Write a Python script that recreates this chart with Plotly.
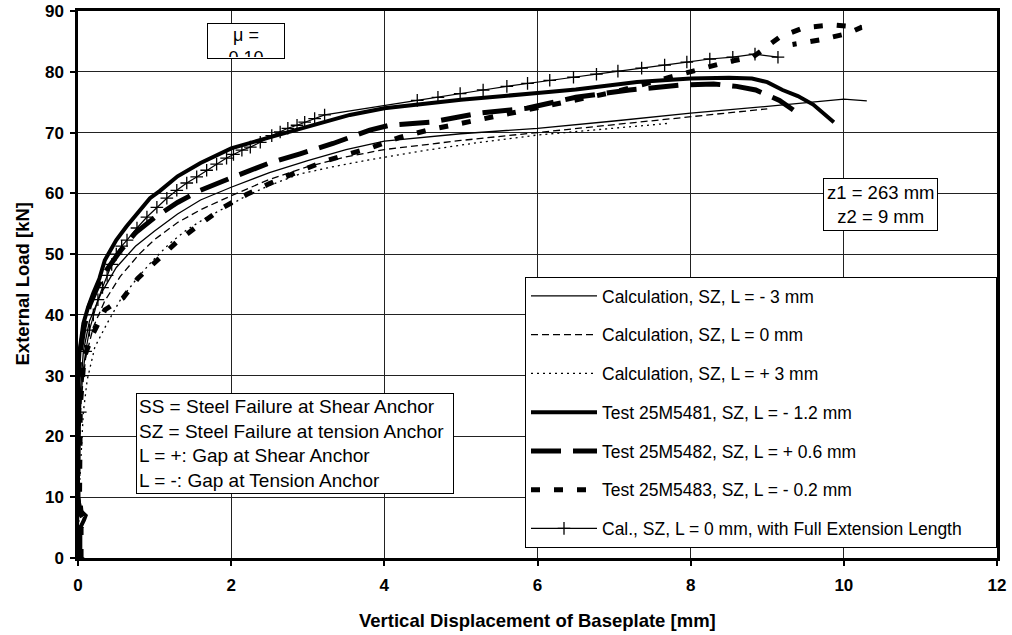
import plotly.graph_objects as go

# ---------------- data ----------------
calc_m3_x = [0, 0.01, 0.03, 0.07, 0.15, 0.3, 0.5, 0.75, 1.0, 1.3, 1.6, 2.0, 2.5, 3.0, 3.5, 4.0, 5.0, 6.0, 7.0, 8.0, 9.0, 10.0, 10.3]
calc_m3_y = [0, 15, 27, 34, 39, 43.5, 47.8, 51.3, 53.8, 56.6, 58.9, 61.0, 63.4, 65.4, 67.2, 68.6, 69.8, 70.7, 71.9, 73.2, 74.3, 75.5, 75.2]

calc_0_x = [0, 0.01, 0.04, 0.1, 0.2, 0.35, 0.55, 0.8, 1.0, 1.3, 1.6, 2.0, 2.5, 3.0, 3.5, 4.0, 5.0, 6.0, 7.0, 8.0, 9.0]
calc_0_y = [0, 14, 26, 33, 38, 42.3, 46.3, 50.0, 52.4, 55.2, 57.3, 59.6, 62.3, 64.4, 66.0, 67.2, 68.7, 70.0, 71.2, 72.6, 73.9]

calc_p3_x = [0, 0.02, 0.07, 0.12, 0.22, 0.38, 0.55, 0.77, 0.95, 1.2, 1.42, 1.65, 1.9, 2.2, 2.5, 2.9, 3.3, 3.8, 4.5, 5.2, 6.0, 6.8, 7.7]
calc_p3_y = [0, 12, 24, 29.3, 34.7, 38.6, 42.4, 46.0, 48.6, 51.8, 54.0, 55.8, 57.5, 59.6, 61.3, 63.2, 64.3, 65.5, 67.0, 68.3, 69.6, 70.5, 71.5]

test_5481_x = [0.03, 0.03, 0.08, 0.1, 0.03, 0.0, 0.0, 0.02, 0.07, 0.13, 0.2, 0.28, 0.35, 0.5, 0.63, 0.77, 0.94, 1.07, 1.3, 1.6, 2.0, 2.5, 3.0, 3.55, 4.0, 5.0, 6.0, 6.5, 7.3, 8.0, 8.5, 8.8, 9.0, 9.2, 9.4, 9.6, 9.87]
test_5481_y = [0, 5, 6.3, 7, 7.8, 10, 30, 34, 38.6, 41.2, 43.6, 46.0, 49.0, 52.3, 54.5, 56.7, 59.2, 60.4, 62.8, 65.0, 67.4, 69.2, 71.0, 72.9, 74.0, 75.4, 76.5, 77.1, 78.3, 78.9, 79.0, 78.9, 78.3, 77.0, 76.0, 74.6, 71.7]

test_5482_x = [0.02, 0.02, 0.07, 0.02, 0.0, 0.0, 0.03, 0.08, 0.15, 0.25, 0.38, 0.55, 0.75, 1.0, 1.3, 1.6, 2.03, 2.5, 2.9, 3.33, 3.81, 4.07, 4.6, 5.25, 5.86, 6.5, 7.2, 7.86, 8.3, 8.6, 8.85, 9.0, 9.16, 9.34]
test_5482_y = [0, 5, 6.5, 7.5, 10, 29, 34, 38, 41.5, 44.5, 47.5, 50.5, 53.5, 56.0, 58.5, 60.5, 62.7, 65.0, 66.5, 68.2, 70.4, 71.2, 71.7, 73.2, 74.0, 75.8, 77.0, 77.8, 78.0, 77.6, 77.0, 76.2, 75.3, 73.7]

test_5483_x = [0.04, 0.04, 0.1, 0.04, 0.02, 0.03, 0.08, 0.2, 0.35, 0.59, 0.78, 1.04, 1.29, 1.6, 1.9, 2.2, 2.5, 2.86, 3.25, 3.85, 4.2, 4.57, 5.29, 6.0, 6.98, 7.73, 8.08, 8.47, 8.81, 8.94, 9.16, 9.49, 9.86, 10.23, 10.05, 9.71, 9.33]
test_5483_y = [0, 5, 6.5, 7.5, 10, 25, 33, 37, 40.8, 42.8, 46.0, 49.0, 52.0, 55.0, 57.7, 59.8, 61.6, 63.5, 65.4, 67.6, 69.2, 70.4, 72.3, 74.0, 76.6, 79.1, 80.3, 81.6, 82.4, 83.6, 85.7, 87.3, 87.7, 87.3, 86.3, 85.3, 84.5]

full_ext_x = [0, 0.03, 0.06, 0.1, 0.15, 0.2, 0.26, 0.32, 0.38, 0.44, 0.5, 0.57, 0.64, 0.77, 0.9, 1.03, 1.16, 1.29, 1.42, 1.55, 1.68, 1.81, 1.94, 2.03, 2.14, 2.25, 2.38, 2.53, 2.64, 2.74, 2.86, 2.96, 3.09, 3.22, 4.43, 4.70, 4.99, 5.29, 5.6, 5.87, 6.16, 6.47, 6.77, 7.05, 7.36, 7.66, 7.95, 8.25, 8.55, 8.84, 9.14]
full_ext_y = [0, 24, 30, 34, 37.5, 40, 42.5, 44.5, 46.5, 48.3, 50, 51.3, 52.3, 54.3, 56.1, 57.7, 59.2, 60.5, 61.7, 62.7, 63.8, 64.8, 65.8, 66.4, 67.1, 67.6, 68.4, 69.5, 70.1, 70.7, 71.2, 71.7, 72.3, 72.9, 75.3, 75.8, 76.4, 77.0, 77.6, 78.1, 78.6, 79.1, 79.6, 80.1, 80.6, 81.1, 81.6, 82.1, 82.4, 82.9, 82.4]

series_names = [
    "Calculation, SZ, L = - 3 mm",
    "Calculation, SZ, L = 0 mm",
    "Calculation, SZ, L = + 3 mm",
    "Test 25M5481, SZ, L = - 1.2 mm",
    "Test 25M5482, SZ, L = + 0.6 mm",
    "Test 25M5483, SZ, L = - 0.2 mm",
    "Cal., SZ, L = 0 mm, with Full Extension Length",
]

x_ticks = [0, 2, 4, 6, 8, 10, 12]
y_ticks = [0, 10, 20, 30, 40, 50, 60, 70, 80, 90]

FONT = "Arial, Liberation Sans, sans-serif"

fig = go.Figure()

styles = [
    dict(width=1.3, dash="solid"),
    dict(width=1.3, dash="7px,4px"),
    dict(width=1.3, dash="2px,4px"),
    dict(width=4.0, dash="solid"),
    dict(width=5.0, dash="30px,12px"),
    dict(width=5.0, dash="9px,14px"),
]
data = [
    (calc_m3_x, calc_m3_y), (calc_0_x, calc_0_y), (calc_p3_x, calc_p3_y),
    (test_5481_x, test_5481_y), (test_5482_x, test_5482_y), (test_5483_x, test_5483_y),
]
for i, ((xs, ys), st) in enumerate(zip(data, styles)):
    fig.add_trace(go.Scatter(
        x=xs, y=ys, mode="lines", name=series_names[i], legendgroup=f"g{i}",
        line=dict(color="black", width=st["width"], dash=st["dash"]),
    ))

fig.add_trace(go.Scatter(
    x=full_ext_x, y=full_ext_y, mode="lines+markers", legendgroup="g6",
    name=series_names[6] + "\u00a0" * 6,
    line=dict(color="black", width=1.2),
    marker=dict(symbol="cross-thin", size=9, color="black", line=dict(color="black", width=1.3)),
))

axis_common = dict(
    showgrid=True, gridcolor="#222222", gridwidth=1,
    showline=True, linecolor="black", linewidth=2.5, mirror=True,
    ticks="outside", ticklen=5, tickcolor="black", tickwidth=1.5,
    zeroline=False, automargin=False,
    tickfont=dict(family=FONT, size=17, color="black", weight="bold"),
)

fig.update_xaxes(range=[0, 12], tickvals=x_ticks, ticklabelstandoff=5, **axis_common)
fig.update_yaxes(range=[0, 90], tickvals=y_ticks, ticklabelstandoff=3, **axis_common)

annotations = [
    dict(text="<b>Vertical Displacement of Baseplate [mm]</b>", xref="paper", yref="paper",
         x=0.5, y=0, yshift=-62, xanchor="center", yanchor="middle", showarrow=False,
         font=dict(family=FONT, size=18.5, color="black")),
    dict(text="<b>External Load [kN]</b>", xref="paper", yref="paper",
         x=0, y=0.5, xshift=-56, xanchor="center", yanchor="middle", textangle=-90, showarrow=False,
         font=dict(family=FONT, size=18.5, color="black")),
    dict(text="μ =<br>0.10", xref="x", yref="y", x=2.19, y=88.0, xanchor="center", yanchor="top",
         showarrow=False, width=74, height=32, valign="top", align="center",
         bordercolor="black", borderwidth=1, borderpad=1, bgcolor="white",
         font=dict(family=FONT, size=18, color="black")),
    dict(text="z1 = 263 mm<br>z2 = 9 mm", xref="x", yref="y", x=10.48, y=62.6, xanchor="center", yanchor="top",
         showarrow=False, align="center",
         bordercolor="black", borderwidth=1, borderpad=3, bgcolor="white",
         font=dict(family=FONT, size=18.5, color="black")),
    dict(text="SS = Steel Failure at Shear Anchor<br>SZ = Steel Failure at tension Anchor<br>"
              "L = +: Gap at Shear Anchor<br>L = -: Gap at Tension Anchor",
         xref="x", yref="y", x=0.757, y=27.1, xanchor="left", yanchor="top",
         showarrow=False, align="left", width=312,
         bordercolor="black", borderwidth=1, borderpad=2, bgcolor="white",
         font=dict(family=FONT, size=19, color="black")),
]

fig.update_layout(
    width=1012, height=635,
    margin=dict(l=78, r=15, t=11, b=77, autoexpand=False),
    paper_bgcolor="white", plot_bgcolor="white",
    showlegend=True,
    legend=dict(
        x=0.4864, y=0.5137, xanchor="left", yanchor="top",
        bgcolor="white", bordercolor="black", borderwidth=1,
        font=dict(family=FONT, size=17.5, color="black"),
        tracegroupgap=13, itemwidth=66, traceorder="grouped",
    ),
    annotations=annotations,
)

# remove the default 8 px page margin so the figure sits at the window's top-left corner
fig.write_html(
    "out.html",
    config={"displayModeBar": False},
    post_script="document.body.style.margin='0';document.body.style.overflow='hidden';",
)
